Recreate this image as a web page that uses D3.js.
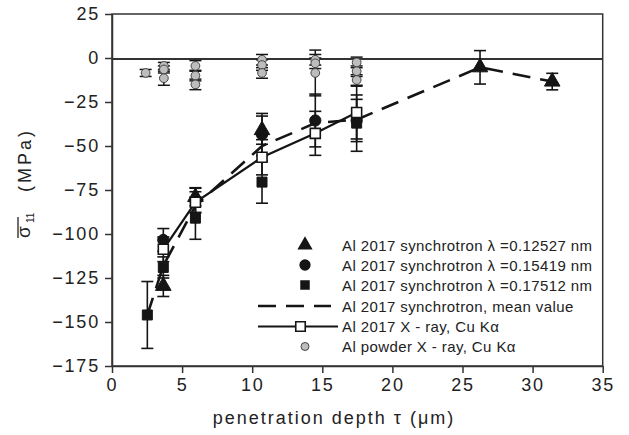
<!DOCTYPE html>
<html>
<head>
<meta charset="utf-8">
<script src="https://cdn.jsdelivr.net/npm/d3@7"></script>
<style>
  body { margin: 0; background: #fff; }
  svg text { font-family: "Liberation Sans", Arial, sans-serif; fill: #222; }
  .axis path, .axis line { stroke: #333; stroke-width: 1.5; }
  .axis text { font-size: 18px; letter-spacing: 1.8px; }
</style>
</head>
<body>
<svg width="629" height="435"></svg>
<script>
// penetration depth (µm) / stress (MPa) / error (MPa)
const triDepth = [3.66, 5.95, 10.7, 26.25, 31.4];
const triStress = [-129.5, -79, -41, -5.3, -13.4];
const triErr = [6, 5, 8, 9.5, 4.7];

const cirDepth = [3.66, 5.95, 10.7, 14.5, 17.45];
const cirStress = [-103.4, -80.7, -43.5, -35.5, -35.5];
const cirErr = [6.5, 7, 12, 15, 12];

const sqDepth = [2.52, 3.66, 5.95, 10.7, 17.45];
const sqStress = [-146, -119, -91, -70.5, -37];
const sqErr = [19, 6, 12, 12, 16];

const meanDepth = [2.52, 3.66, 5.95, 10.7, 14.5, 17.45, 26.25, 31.4];
const meanStress = [-146, -118, -84, -50, -37, -35, -5.3, -13.4];

const xrayDepth = [3.66, 5.95, 10.7, 14.5, 17.45];
const xrayStress = [-108.7, -82, -56.4, -42.8, -31];
const xrayErr = [7, 6, 10, 12.5, 15];

const powderDepth = [2.4, 3.7, 3.7, 3.7, 5.95, 5.95, 5.95, 10.7, 10.7, 10.7, 14.5, 14.5, 14.5, 17.45, 17.45, 17.45];
const powderStress = [-8.5, -4.5, -6.5, -11.5, -4.5, -10, -15, -1, -4, -8.5, -1, -3, -8.5, -2.5, -7.5, -12.5];
const powderErr = [2, 2, 2, 4, 3, 3, 3, 3, 3, 3, 3, 3, 13, 3, 3, 3];

const xTicks = [0, 5, 10, 15, 20, 25, 30, 35];
const yTicks = [25, 0, -25, -50, -75, -100, -125, -150, -175];

const legendLabels = [
  'Al 2017 synchrotron \u03bb =0.12527 nm',
  'Al 2017 synchrotron \u03bb =0.15419 nm',
  'Al 2017 synchrotron \u03bb =0.17512 nm',
  'Al 2017 synchrotron, mean value',
  'Al 2017 X - ray, Cu K\u03b1',
  'Al powder X - ray, Cu K\u03b1'
];

const zip = (xs, ys, es) => xs.map((x, i) => ({x: x, y: ys[i], e: es ? es[i] : 0}));

const svg = d3.select('svg');
const x = d3.scaleLinear().domain([0, 35]).range([112, 602.7]);
const y = d3.scaleLinear().domain([-175, 25]).range([366, 14]);
const ink = '#151515';

// frame
svg.append('rect')
  .attr('x', x(0)).attr('y', y(25))
  .attr('width', x(35) - x(0)).attr('height', y(-175) - y(25))
  .attr('fill', 'none').attr('stroke', '#333').attr('stroke-width', 1.5);

svg.append('g').attr('class', 'axis')
  .attr('transform', 'translate(0,' + y(-175) + ')')
  .call(d3.axisBottom(x).tickValues(xTicks).tickSize(7).tickPadding(5).tickSizeOuter(0));

svg.append('g').attr('class', 'axis')
  .attr('transform', 'translate(' + x(0) + ',0)')
  .call(d3.axisLeft(y).tickValues(yTicks).tickSize(7).tickPadding(5).tickSizeOuter(0));

// zero line
svg.append('line')
  .attr('x1', x(0)).attr('x2', x(35))
  .attr('y1', y(0) + 1).attr('y2', y(0) + 1)
  .attr('stroke', '#333').attr('stroke-width', 2);

function errorBars(data, width) {
  const g = svg.append('g').attr('stroke', ink).attr('stroke-width', width);
  data.forEach((d) => {
    g.append('line').attr('x1', x(d.x)).attr('x2', x(d.x))
      .attr('y1', y(d.y - d.e)).attr('y2', y(d.y + d.e));
    [d.y - d.e, d.y + d.e].forEach((v) => {
      g.append('line').attr('x1', x(d.x) - 6).attr('x2', x(d.x) + 6)
        .attr('y1', y(v)).attr('y2', y(v));
    });
  });
}

const powder = zip(powderDepth, powderStress, powderErr);
const tri = zip(triDepth, triStress, triErr);
const cir = zip(cirDepth, cirStress, cirErr);
const sq = zip(sqDepth, sqStress, sqErr);
const xray = zip(xrayDepth, xrayStress, xrayErr);
const mean = zip(meanDepth, meanStress);

errorBars(powder, 1.5);
errorBars(sq, 1.6);
errorBars(cir, 1.6);
errorBars(tri, 1.6);
errorBars(xray, 1.6);

const line = d3.line().x((d) => x(d.x)).y((d) => y(d.y));

svg.append('path').datum(mean).attr('d', line)
  .attr('fill', 'none').attr('stroke', ink).attr('stroke-width', 2.6)
  .attr('stroke-dasharray', '18,10');

svg.append('path').datum(xray).attr('d', line)
  .attr('fill', 'none').attr('stroke', ink).attr('stroke-width', 2.2);

const sym = (type, size) => d3.symbol().type(type).size(size);

function markers(data, type, size, fill, stroke, sw) {
  svg.append('g').selectAll('path').data(data).enter().append('path')
    .attr('transform', (d) => 'translate(' + x(d.x) + ',' + y(d.y) + ')')
    .attr('d', sym(type, size)())
    .attr('fill', fill).attr('stroke', stroke).attr('stroke-width', sw);
}

markers(powder, d3.symbolCircle, 60, '#bdbdbd', '#444', 1);
markers(sq, d3.symbolSquare, 100, ink, ink, 1);
markers(cir, d3.symbolCircle, 100, ink, ink, 1);
markers(tri, d3.symbolTriangle, 105, ink, ink, 1);
markers(xray, d3.symbolSquare, 100, '#fff', ink, 1.6);

// legend
const lg = svg.append('g');
const rowY = [245, 265, 285, 306, 326.5, 346.5];
const mx = 305;
lg.append('path').attr('transform', 'translate(' + mx + ',' + rowY[0] + ')')
  .attr('d', sym(d3.symbolTriangle, 100)()).attr('fill', ink);
lg.append('path').attr('transform', 'translate(' + mx + ',' + rowY[1] + ')')
  .attr('d', sym(d3.symbolCircle, 100)()).attr('fill', ink);
lg.append('path').attr('transform', 'translate(' + mx + ',' + rowY[2] + ')')
  .attr('d', sym(d3.symbolSquare, 90)()).attr('fill', ink);
lg.append('line').attr('x1', 258).attr('x2', 331).attr('y1', rowY[3]).attr('y2', rowY[3])
  .attr('stroke', ink).attr('stroke-width', 2.6).attr('stroke-dasharray', '18,10');
lg.append('line').attr('x1', 258).attr('x2', 338).attr('y1', rowY[4]).attr('y2', rowY[4])
  .attr('stroke', ink).attr('stroke-width', 2.2);
lg.append('path').attr('transform', 'translate(' + 300.5 + ',' + rowY[4] + ')')
  .attr('d', sym(d3.symbolSquare, 90)()).attr('fill', '#fff').attr('stroke', ink).attr('stroke-width', 1.6);
lg.append('path').attr('transform', 'translate(' + mx + ',' + rowY[5] + ')')
  .attr('d', sym(d3.symbolCircle, 50)()).attr('fill', '#bdbdbd').attr('stroke', '#444');

lg.selectAll('text.leg').data(legendLabels).enter().append('text')
  .attr('class', 'leg')
  .attr('x', 342).attr('y', (d, i) => rowY[i] + 5.5)
  .attr('font-size', 15).attr('letter-spacing', 0.4)
  .text((d) => d);

// axis titles
svg.append('text')
  .attr('x', 334).attr('y', 424)
  .attr('text-anchor', 'middle')
  .attr('font-size', 18).attr('letter-spacing', 2)
  .text('penetration depth \u03c4 (\u03bcm)');

const yl = svg.append('g').attr('transform', 'translate(31,0) rotate(-90)');
yl.append('text').attr('x', -238).attr('y', -1).attr('font-size', 19).text('\u03c3');
yl.append('text').attr('x', -223).attr('y', 3).attr('font-size', 10).text('11');
yl.append('line').attr('x1', -238).attr('x2', -217).attr('y1', -13).attr('y2', -13)
  .attr('stroke', '#222').attr('stroke-width', 1.3);
yl.append('text').attr('x', -192).attr('y', 0).attr('font-size', 18)
  .attr('letter-spacing', 3).text('(MPa)');
</script>
</body>
</html>
